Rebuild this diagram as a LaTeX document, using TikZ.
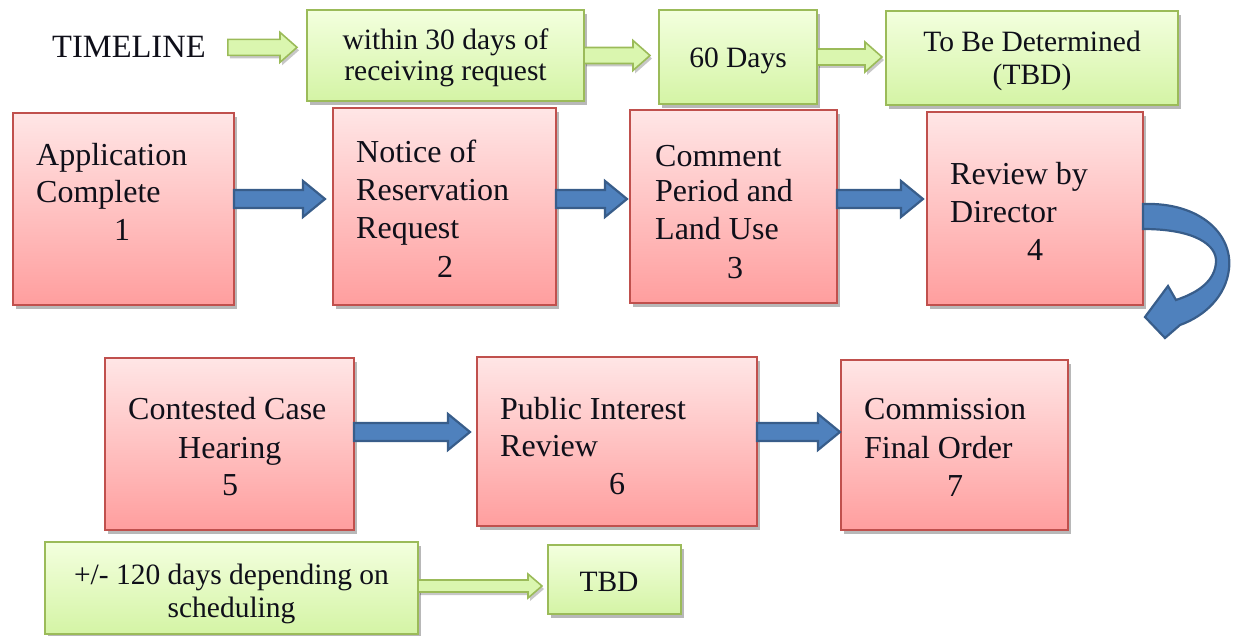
\documentclass[tikz,border=0pt]{standalone}
\usepackage{fontspec}
\setmainfont{Liberation Serif}
\usetikzlibrary{shadows,calc}
\definecolor{redB}{RGB}{192,80,77}
\definecolor{redT}{RGB}{255,230,230}
\definecolor{redBot}{RGB}{255,158,158}
\definecolor{grnB}{RGB}{155,187,89}
\definecolor{grnT}{RGB}{243,255,222}
\definecolor{grnBot}{RGB}{212,244,165}
\definecolor{grnA}{RGB}{218,246,175}
\definecolor{bluF}{RGB}{79,129,189}
\definecolor{bluB}{RGB}{56,93,138}
\definecolor{txt}{RGB}{15,15,25}
\newcommand\blockarr[6]{%
  \path[#1] let \p1=(#2), \p2=(#3) in
    (\x1,\y1+#4) -- (\x2-#6,\y1+#4) -- (\x2-#6,\y1+#5) -- (\x2,\y1)
    -- (\x2-#6,\y1-#5) -- (\x2-#6,\y1-#4) -- (\x1,\y1-#4) -- cycle;}
\tikzset{
  shd/.style={drop shadow={shadow xshift=3pt, shadow yshift=-4pt, opacity=0.28, fill=black}},
  redbox/.style={draw=redB, line width=1.6pt, top color=redT, bottom color=redBot, shd,
    inner sep=0pt, outer sep=0pt, anchor=north west},
  grnbox/.style={draw=grnB, line width=1.6pt, top color=grnT, bottom color=grnBot, shd,
    inner sep=0pt, outer sep=0pt, anchor=north west},
  rtxt/.style={font=\fontsize{32}{38}\selectfont, text=txt, inner sep=0pt, anchor=base west},
  gtxt/.style={font=\fontsize{29.5}{33}\selectfont, text=txt, inner sep=0pt, anchor=base},
  bluarr/.style={fill=bluF, draw=bluB, line width=2.2pt, line join=miter},
  grnarr/.style={fill=grnA, draw=grnB, line width=1.6pt, line join=miter,
    drop shadow={shadow xshift=2pt, shadow yshift=-3pt, opacity=0.22, fill=black}},
}
\begin{document}
\begin{tikzpicture}[x=1pt, y=-1pt]
\useasboundingbox (0,0) rectangle (1235,636);
% timeline boxes
\node[font=\fontsize{32.5}{36}\selectfont, text=txt, inner sep=0pt, anchor=base west] (tl) at (52,58) {TIMELINE};
\node[grnbox, minimum width=277pt, minimum height=91pt] (g1) at (307,10) {};
\node[grnbox, minimum width=158pt, minimum height=94pt] (g2) at (659,10) {};
\node[grnbox, minimum width=292pt, minimum height=94pt] (g3) at (886,11) {};
\node[grnbox, minimum width=373pt, minimum height=92pt] (g4) at (45,542) {};
\node[grnbox, minimum width=133pt, minimum height=69pt] (g5) at (548,545) {};
\node[gtxt] (g1a) at (445.5,50) {within 30 days of};
\node[gtxt] (g1b) at (445.5,81) {receiving request};
\node[gtxt] (g2a) at (738,68) {60 Days};
\node[gtxt] (g3a) at (1032,52) {To Be Determined};
\node[gtxt] (g3b) at (1032,85) {(TBD)};
\node[gtxt] (g4a) at (231.5,584) {+/- 120 days depending on};
\node[gtxt] (g4b) at (231.5,617) {scheduling};
\node[gtxt] (g5a) at (609,591) {TBD};
% green arrows
\blockarr{grnarr}{[xshift=22pt]tl.east}{[xshift=-10pt]g1.west}{8pt}{15pt}{17pt}
\blockarr{grnarr}{g1.east}{[xshift=-9pt]g2.west}{8pt}{15pt}{17pt}
\blockarr{grnarr}{g2.east}{[xshift=-4pt]g3.west}{8pt}{15pt}{17pt}
\blockarr{grnarr}{[yshift=2pt]g4.east}{[xshift=-6pt]g5.west}{6pt}{12pt}{14pt}
% process boxes
\node[redbox, minimum width=221pt, minimum height=192pt] (b1) at (13,113) {};
\node[redbox, minimum width=223pt, minimum height=197pt] (b2) at (333,108) {};
\node[redbox, minimum width=207pt, minimum height=193pt] (b3) at (630,110) {};
\node[redbox, minimum width=216pt, minimum height=193pt] (b4) at (927,112) {};
\node[redbox, minimum width=249pt, minimum height=172pt] (b5) at (105,358) {};
\node[redbox, minimum width=280pt, minimum height=169pt] (b6) at (477,357) {};
\node[redbox, minimum width=227pt, minimum height=170pt] (b7) at (841,360) {};
% box texts
\node[rtxt] (t1a) at (36,166) {Application};
\node[rtxt] (t1b) at (36,203) {Complete};
\node[rtxt] (t1c) at (114,241) {1};
\node[rtxt] (t2a) at (356,163) {Notice of};
\node[rtxt] (t2b) at (356,201) {Reservation};
\node[rtxt] (t2c) at (356,239) {Request};
\node[rtxt] (t2d) at (437,278) {2};
\node[rtxt] (t3a) at (655,167) {Comment};
\node[rtxt] (t3b) at (655,202) {Period and};
\node[rtxt] (t3c) at (655,240) {Land Use};
\node[rtxt] (t3d) at (727,279) {3};
\node[rtxt] (t4a) at (950,185) {Review by};
\node[rtxt] (t4b) at (950,223) {Director};
\node[rtxt] (t4c) at (1027,261) {4};
\node[rtxt] (t5a) at (128,420) {Contested Case};
\node[rtxt] (t5b) at (178,458) {Hearing};
\node[rtxt] (t5c) at (222,495) {5};
\node[rtxt] (t6a) at (500,419) {Public Interest};
\node[rtxt] (t6b) at (500,456) {Review};
\node[rtxt] (t6c) at (609,494) {6};
\node[rtxt] (t7a) at (864,420) {Commission};
\node[rtxt] (t7b) at (864,458) {Final Order};
\node[rtxt] (t7c) at (947,496) {7};
% blue arrows
\blockarr{bluarr}{[yshift=10pt]b1.east}{[xshift=-8pt]b2.west}{9pt}{18pt}{22pt}
\blockarr{bluarr}{[yshift=7.5pt]b2.east}{[xshift=-3pt]b3.west}{9pt}{18pt}{22pt}
\blockarr{bluarr}{[yshift=7.5pt]b3.east}{[xshift=-4pt]b4.west}{9pt}{18pt}{22pt}
\blockarr{bluarr}{[yshift=12pt]b5.east}{[xshift=-7pt]b6.west}{9pt}{18pt}{22pt}
\blockarr{bluarr}{[yshift=9.5pt]b6.east}{[xshift=-1pt]b7.west}{9pt}{18pt}{22pt}
% curved arrow from box 4 down to the second row
\begin{scope}[shift={(b4.north east)}]
\coordinate (cstart) at (0,92);
\path[bluarr] (cstart) .. controls (58,90) and (90,123) .. (86,157)
  .. controls (83,184) and (62,204) .. (37,213)
  -- (22,226) -- (2,205) -- (25,174) -- (33,188)
  .. controls (57,180) and (72,168) .. (73,150)
  .. controls (74,133) and (52,117) .. (0,117) -- cycle;
\end{scope}
\end{tikzpicture}
\end{document}
